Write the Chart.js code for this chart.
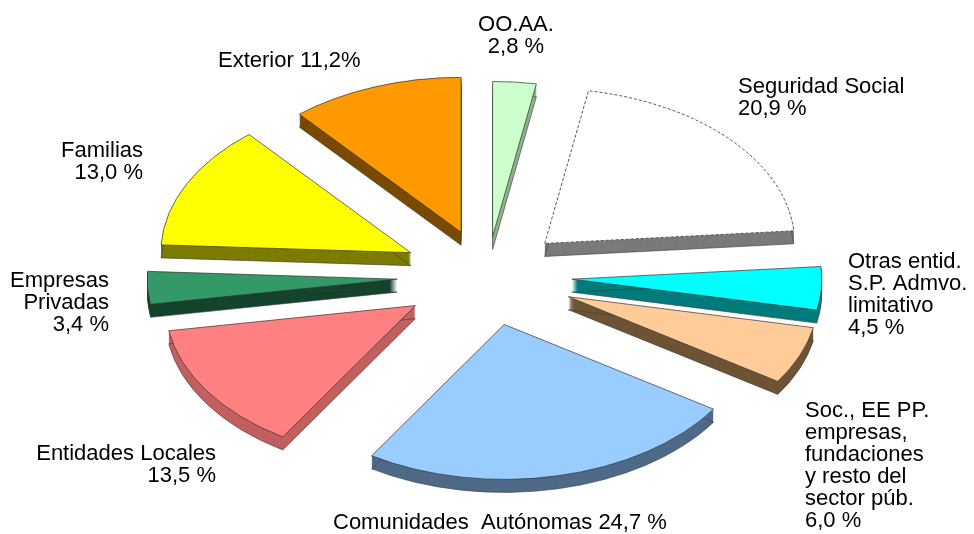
<!DOCTYPE html>
<html>
<head>
<meta charset="utf-8">
<script src="https://cdn.jsdelivr.net/npm/chart.js@4.4.1/dist/chart.umd.min.js"></script>
<style>
    html, body { margin: 0; padding: 0; background: #ffffff; }
</style>
</head>
<body>
<canvas id="pieChart" width="974" height="534"></canvas>
<script>
// data, clockwise from 12 o'clock
const categories = ['OO.AA.', 'Seguridad Social', 'Otras entid. S.P. Admvo. limitativo',
    'Soc., EE PP. empresas, fundaciones y resto del sector púb.', 'Comunidades Autónomas',
    'Entidades Locales', 'Empresas Privadas', 'Familias', 'Exterior'];
const shares = [2.8, 20.9, 4.5, 6.0, 24.7, 13.5, 3.4, 13.0, 11.2];
const labelLines = [
    ['OO.AA.'],
    ['Seguridad Social'],
    ['Otras entid.', 'S.P. Admvo.', 'limitativo'],
    ['Soc., EE PP.', 'empresas,', 'fundaciones', 'y resto del', 'sector púb.'],
    ['Comunidades  Autónomas'],
    ['Entidades Locales'],
    ['Empresas', 'Privadas'],
    ['Familias'],
    ['Exterior']
];

// styling
const topColors = ['#ccffcc', '#ffffff', '#00ffff', '#ffcc99', '#99ccff', '#ff8080', '#339966', '#ffff00', '#ff9900'];
const sideColors = ['#8fb38f', '#7a7a7a', '#007b7b', '#6e5335', '#4f6a88', '#c25f5f', '#14442c', '#7c7c00', '#7a4a00'];
const explode = [64, 78, 85, 88, 80, 86, 90, 85, 75];
const squash = 0.62;
const depth = 13;

// label placement: x, first baseline, alignment, how the percentage is attached
const labelPos = [
    { x: 516, y: 31, align: 'center', pct: 'line' },
    { x: 738, y: 93, align: 'left', pct: 'line' },
    { x: 848, y: 268, align: 'left', pct: 'line' },
    { x: 805, y: 417, align: 'left', pct: 'line' },
    { x: 333, y: 529, align: 'left', pct: 'inline' },
    { x: 216, y: 460, align: 'right', pct: 'line' },
    { x: 109, y: 287, align: 'right', pct: 'line' },
    { x: 143, y: 157, align: 'right', pct: 'line' },
    { x: 218, y: 67, align: 'left', pct: 'tight' }
];
const lineHeight = 22;

function pctText(v) {
    return v.toFixed(1).replace('.', ',');
}

function slicePath(ctx, arc, ex, drop) {
    const p = arc.getProps(['x', 'y', 'startAngle', 'endAngle', 'outerRadius']);
    const mid = (p.startAngle + p.endAngle) / 2;
    const cx = p.x + Math.cos(mid) * ex;
    const cy = p.y + Math.sin(mid) * ex * squash + drop;
    ctx.beginPath();
    ctx.moveTo(cx, cy);
    ctx.ellipse(cx, cy, p.outerRadius, p.outerRadius * squash, 0, p.startAngle, p.endAngle);
    ctx.closePath();
}

const pie3d = {
    id: 'pie3d',
    beforeDatasetsDraw(chart) {
        const ctx = chart.ctx;
        const arcs = chart.getDatasetMeta(0).data;
        const midSin = a => Math.sin((a.startAngle + a.endAngle) / 2);
        const order = arcs.map((a, i) => i).sort((i, j) => midSin(arcs[i]) - midSin(arcs[j]));
        ctx.save();
        order.forEach(i => {
            const arc = arcs[i];
            ctx.fillStyle = sideColors[i];
            for (let d = depth; d > 0; d--) {
                slicePath(ctx, arc, explode[i], d);
                ctx.fill();
            }
            slicePath(ctx, arc, explode[i], depth);
            ctx.strokeStyle = 'rgba(60,60,60,0.6)';
            ctx.lineWidth = 1;
            ctx.stroke();
            slicePath(ctx, arc, explode[i], 0);
            ctx.fillStyle = topColors[i];
            ctx.fill();
            ctx.strokeStyle = i === 1 ? '#555555' : 'rgba(50,50,50,0.7)';
            ctx.setLineDash(i === 1 ? [3, 2] : []);
            ctx.stroke();
            ctx.setLineDash([]);
        });
        ctx.restore();
        return false;
    },
    afterDraw(chart) {
        const ctx = chart.ctx;
        ctx.save();
        ctx.fillStyle = '#000000';
        ctx.font = '22px "Liberation Sans", Arial, sans-serif';
        ctx.textBaseline = 'alphabetic';
        labelLines.forEach((lines, i) => {
            const pos = labelPos[i];
            const pct = pctText(shares[i]);
            let rows = lines.slice();
            if (pos.pct === 'inline') {
                rows[rows.length - 1] += ' ' + pct + ' %';
            } else if (pos.pct === 'tight') {
                rows[rows.length - 1] += ' ' + pct + '%';
            } else {
                rows.push(pct + ' %');
            }
            ctx.textAlign = pos.align;
            rows.forEach((t, r) => ctx.fillText(t, pos.x, pos.y + r * lineHeight));
        });
        ctx.restore();
    }
};

new Chart(document.getElementById('pieChart'), {
    type: 'pie',
    data: {
        labels: categories,
        datasets: [{
            data: shares,
            backgroundColor: topColors,
            borderWidth: 0,
            radius: 250
        }]
    },
    options: {
        responsive: false,
        animation: false,
        layout: { padding: { top: 18 } },
        plugins: {
            legend: { display: false },
            tooltip: { enabled: false }
        }
    },
    plugins: [pie3d]
});
</script>
</body>
</html>
